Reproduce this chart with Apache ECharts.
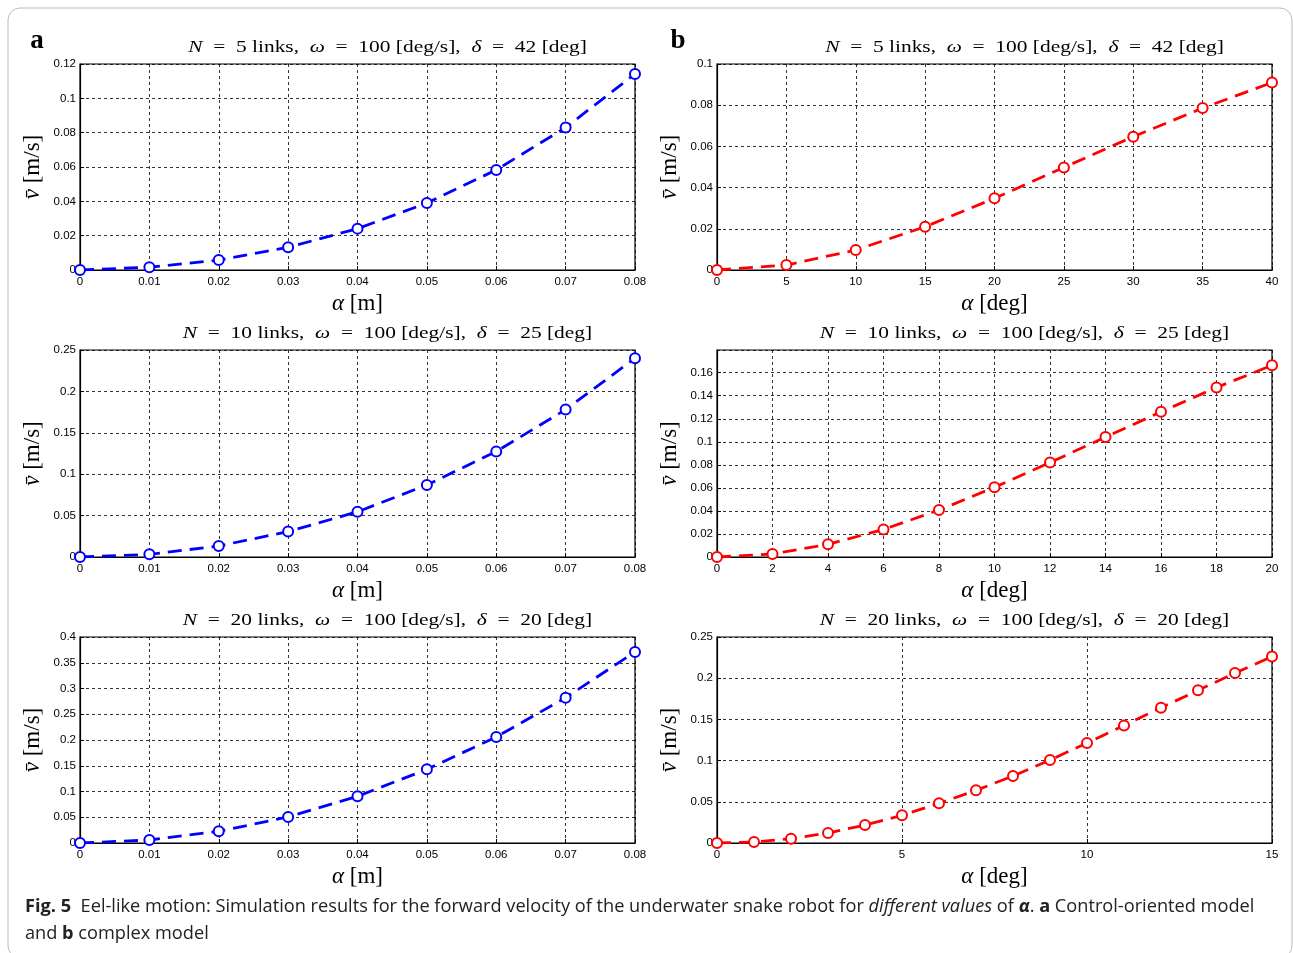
<!DOCTYPE html>
<html>
<head>
<meta charset="utf-8">
<script src="https://cdn.jsdelivr.net/npm/echarts@6/dist/echarts.min.js"></script>
<style>
  html, body { margin: 0; padding: 0; background: #fff; }
  #main { width: 1293px; height: 953px; }
</style>
</head>
<body>
<div id="main"></div>
<script>
// alpha values (x) for each panel
var alphaM = [0, 0.01, 0.02, 0.03, 0.04, 0.05, 0.06, 0.07, 0.08];
var alphaDeg5 = [0, 5, 10, 15, 20, 25, 30, 35, 40];
var alphaDeg10 = [0, 2, 4, 6, 8, 10, 12, 14, 16, 18, 20];
var alphaDeg20 = [0, 1, 2, 3, 4, 5, 6, 7, 8, 9, 10, 11, 12, 13, 14, 15];

// forward velocity (m/s), a = control-oriented model, b = complex model
var vA5 = [0, 0.0016, 0.0058, 0.0132, 0.0241, 0.039, 0.0583, 0.083, 0.1142];
var vA10 = [0, 0.0032, 0.0133, 0.0307, 0.0546, 0.087, 0.1274, 0.178, 0.240];
var vA20 = [0, 0.0058, 0.0227, 0.0505, 0.0906, 0.143, 0.2058, 0.2822, 0.371];
var vB5 = [0, 0.0024, 0.0097, 0.021, 0.0348, 0.0498, 0.0647, 0.0786, 0.091];
var vB10 = [0, 0.0026, 0.011, 0.0239, 0.0407, 0.0605, 0.082, 0.1041, 0.126, 0.1472, 0.1664];
var vB20 = [0, 0.0012, 0.0053, 0.0121, 0.0218, 0.0336, 0.0481, 0.0639, 0.0813, 0.1007, 0.1214, 0.1427, 0.1642, 0.1853, 0.2063, 0.2262];

// panel titles
var titles = [
  '{i|N}  =  5 links,  {i|ω}  =  100 [deg/s],  {i|δ}  =  42 [deg]',
  '{i|N}  =  5 links,  {i|ω}  =  100 [deg/s],  {i|δ}  =  42 [deg]',
  '{i|N}  =  10 links,  {i|ω}  =  100 [deg/s],  {i|δ}  =  25 [deg]',
  '{i|N}  =  10 links,  {i|ω}  =  100 [deg/s],  {i|δ}  =  25 [deg]',
  '{i|N}  =  20 links,  {i|ω}  =  100 [deg/s],  {i|δ}  =  20 [deg]',
  '{i|N}  =  20 links,  {i|ω}  =  100 [deg/s],  {i|δ}  =  20 [deg]'
];

var chart = echarts.init(document.getElementById('main'));

var serif = '"Liberation Serif", "DejaVu Serif", serif';
var sans = '"Liberation Sans", Arial, sans-serif';

// panel boxes
var boxes = [
  { left: 80, top: 64, width: 555, height: 206 },
  { left: 717, top: 64, width: 555, height: 206 },
  { left: 80, top: 350, width: 555, height: 207 },
  { left: 717, top: 350, width: 555, height: 207 },
  { left: 80, top: 637, width: 555, height: 206 },
  { left: 717, top: 637, width: 555, height: 206 }
];

var xSpec = [
  { min: 0, max: 0.08, interval: 0.01, unit: 'm' },
  { min: 0, max: 40, interval: 5, unit: 'deg' },
  { min: 0, max: 0.08, interval: 0.01, unit: 'm' },
  { min: 0, max: 20, interval: 2, unit: 'deg' },
  { min: 0, max: 0.08, interval: 0.01, unit: 'm' },
  { min: 0, max: 15, interval: 5, unit: 'deg' }
];
var ySpec = [
  { min: 0, max: 0.12, interval: 0.02 },
  { min: 0, max: 0.1, interval: 0.02 },
  { min: 0, max: 0.25, interval: 0.05 },
  { min: 0, max: 0.1797, interval: 0.02, hideMax: true },
  { min: 0, max: 0.4, interval: 0.05 },
  { min: 0, max: 0.25, interval: 0.05 }
];
var xs = [alphaM, alphaDeg5, alphaM, alphaDeg10, alphaM, alphaDeg20];
var ys = [vA5, vB5, vA10, vB10, vA20, vB20];
var colors = ['#0000ff', '#ff0000', '#0000ff', '#ff0000', '#0000ff', '#ff0000'];

function pairs(x, y) {
  return x.map(function (v, i) { return [v, y[i]]; });
}

var grid = [], xAxis = [], yAxis = [], series = [], graphic = [];

boxes.forEach(function (b, k) {
  grid.push({
    left: b.left, top: b.top, width: b.width, height: b.height,
    show: true, borderColor: '#000', borderWidth: 1.2, containLabel: false
  });
  xAxis.push({
    type: 'value', gridIndex: k,
    min: xSpec[k].min, max: xSpec[k].max, interval: xSpec[k].interval,
    name: '{i|α} [' + xSpec[k].unit + ']',
    nameLocation: 'middle', nameGap: 22,
    nameTextStyle: {
      fontFamily: serif, fontSize: 23, color: '#000',
      rich: { i: { fontFamily: serif, fontStyle: 'italic', fontSize: 23, color: '#000' } }
    },
    axisLine: { show: true, lineStyle: { color: '#000', width: 1.2 } },
    axisTick: { show: true, inside: true, length: 4, lineStyle: { color: '#000' } },
    axisLabel: { fontFamily: sans, fontSize: 11.5, color: '#000', margin: 6 },
    splitLine: { show: true, lineStyle: { color: '#000', type: [3, 3], width: 0.8 } }
  });
  yAxis.push({
    type: 'value', gridIndex: k,
    min: ySpec[k].min, max: ySpec[k].max, interval: ySpec[k].interval,
    name: '{i|v̄} [m/s]',
    nameLocation: 'middle', nameGap: 36, nameRotate: 90,
    nameTextStyle: {
      fontFamily: serif, fontSize: 23, color: '#000',
      rich: { i: { fontFamily: serif, fontStyle: 'italic', fontSize: 23, color: '#000' } }
    },
    axisLine: { show: true, lineStyle: { color: '#000', width: 1.2 } },
    axisTick: { show: true, inside: true, length: 4, lineStyle: { color: '#000' } },
    axisLabel: { fontFamily: sans, fontSize: 11.5, color: '#000', margin: 4, showMaxLabel: !ySpec[k].hideMax },
    splitLine: { show: true, lineStyle: { color: '#000', type: [3, 3], width: 0.8 } }
  });
  series.push({
    type: 'line', xAxisIndex: k, yAxisIndex: k,
    data: pairs(xs[k], ys[k]),
    symbol: 'emptyCircle', symbolSize: 10,
    lineStyle: { color: colors[k], width: 2.8, type: [14, 8] },
    itemStyle: { color: colors[k], borderColor: colors[k], borderWidth: 2.8 },
    animation: false, z: 3
  });
  graphic.push({
    type: 'text', x: b.left + b.width / 2 + 30, y: b.top - 16, scaleX: 1.26,
    style: {
      text: titles[k], align: 'center', verticalAlign: 'middle',
      font: '17px ' + serif, fill: '#000',
      rich: { i: { fontFamily: serif, fontStyle: 'italic', fontSize: 17, fill: '#000' } }
    }
  });
});

// panel letters
graphic.push({ type: 'text', x: 37, y: 41, style: { text: 'a', align: 'center', verticalAlign: 'middle', font: 'bold 27px ' + serif, fill: '#000' } });
graphic.push({ type: 'text', x: 678, y: 41, style: { text: 'b', align: 'center', verticalAlign: 'middle', font: 'bold 27px ' + serif, fill: '#000' } });

// figure border
graphic.push({
  type: 'rect', shape: { x: 8, y: 8, width: 1284, height: 950, r: 12 },
  style: { fill: 'none', stroke: '#bbb', lineWidth: 1 }, z: -1
});

// caption
var capFont = '"Open Sans", sans-serif';
var capRich = {
  b: { fontFamily: capFont, fontWeight: 'bold', fontSize: 18.2, fill: '#222' },
  it: { fontFamily: capFont, fontStyle: 'italic', fontSize: 18.2, fill: '#222' },
  bi: { fontFamily: capFont, fontStyle: 'italic', fontWeight: 'bold', fontSize: 18.2, fill: '#222' },
  n: { fontFamily: capFont, fontSize: 18.2, fill: '#222' }
};
graphic.push({
  type: 'text', x: 25, y: 907,
  style: {
    text: '{b|Fig. 5}{n|  Eel-like motion: Simulation results for the forward velocity of the underwater snake robot for }{it|different values}{n| of }{bi|α}{n|. }{b|a}{n| Control-oriented model}',
    align: 'left', verticalAlign: 'middle', rich: capRich, font: '18.2px ' + capFont
  }
});
graphic.push({
  type: 'text', x: 25, y: 934,
  style: {
    text: '{n|and }{b|b}{n| complex model}',
    align: 'left', verticalAlign: 'middle', rich: capRich, font: '18.2px ' + capFont
  }
});

chart.setOption({
  backgroundColor: '#fff',
  animation: false,
  grid: grid,
  xAxis: xAxis,
  yAxis: yAxis,
  series: series,
  graphic: graphic
});
</script>
</body>
</html>
